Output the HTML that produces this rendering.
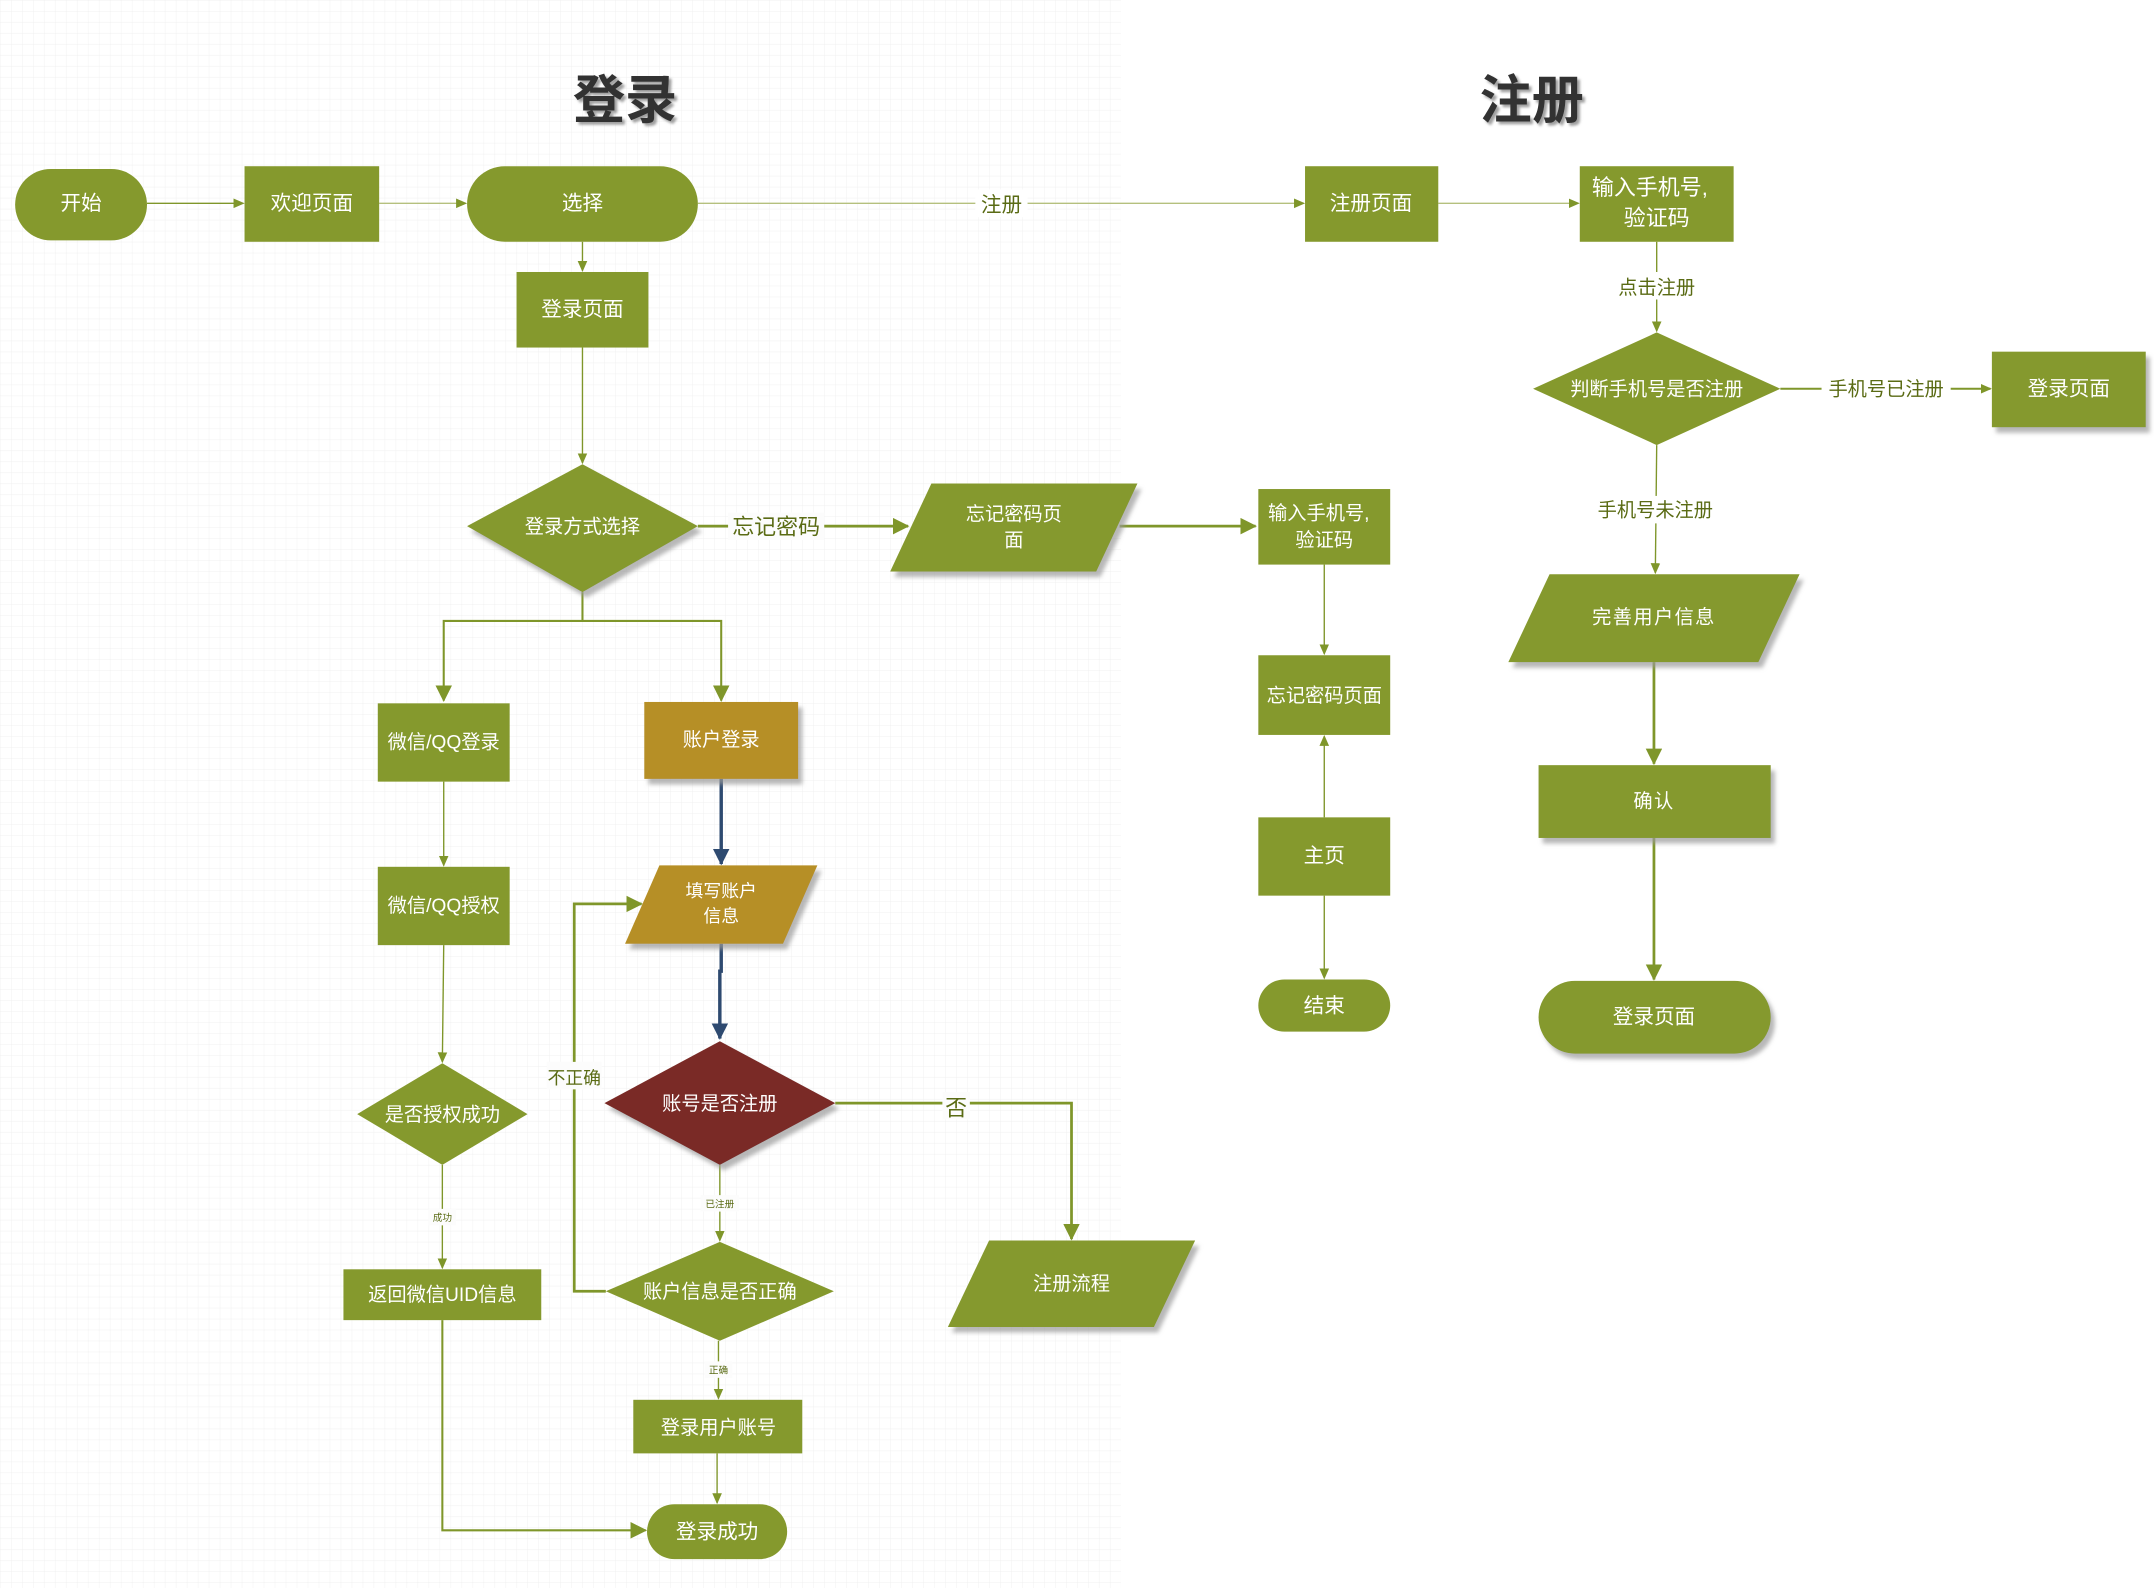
<!DOCTYPE html>
<html><head><meta charset="utf-8">
<style>
html,body{margin:0;padding:0;background:#fff;}
svg{display:block;}
text{font-family:"Liberation Sans","Noto Sans CJK SC",sans-serif;}
</style></head>
<body>
<svg width="2154" height="1588" viewBox="0 0 1568 1156" xmlns="http://www.w3.org/2000/svg">
<defs>
<pattern id="g" width="8" height="8" patternUnits="userSpaceOnUse">
<path d="M8 0H0V8" fill="none" stroke="#ececec" stroke-width="0.5"/>
</pattern>
<marker id="a" markerWidth="8" markerHeight="8" refX="7" refY="4" orient="auto" markerUnits="userSpaceOnUse"><path d="M0,0.5 L8,4 L0,7.5Z" fill="#7f962a"/></marker>
<marker id="ab" markerWidth="12" markerHeight="12" refX="11" refY="6" orient="auto" markerUnits="userSpaceOnUse"><path d="M0,0 L12,6 L0,12Z" fill="#7f962a"/></marker>
<marker id="ad" markerWidth="12" markerHeight="12" refX="11" refY="6" orient="auto" markerUnits="userSpaceOnUse"><path d="M0,0 L12,6 L0,12Z" fill="#2e4a70"/></marker>
<filter id="sh" x="-10%" y="-10%" width="130%" height="130%"><feDropShadow dx="3" dy="4" stdDeviation="1.5" flood-color="#999" flood-opacity="0.7"/></filter>
<filter id="ts"><feDropShadow dx="2" dy="2" stdDeviation="1" flood-color="#888" flood-opacity="0.8"/></filter>
</defs>
<rect x="0" y="0" width="816" height="1156" fill="url(#g)"/>

<text x="455" y="86" font-size="38" font-weight="bold" fill="#333" text-anchor="middle" filter="url(#ts)">登录</text>
<text x="1115" y="86" font-size="38" font-weight="bold" fill="#333" text-anchor="middle" filter="url(#ts)">注册</text>

<g stroke="#7f962a" fill="none" stroke-width="1">
<line x1="107" y1="148" x2="177" y2="148" marker-end="url(#a)"/>
<line x1="276" y1="148" x2="339" y2="148" marker-end="url(#a)" stroke="#b5c07e"/>
<line x1="508" y1="148" x2="949" y2="148" marker-end="url(#a)" stroke="#b5c07e"/>
<line x1="1047" y1="148" x2="1149" y2="148" marker-end="url(#a)" stroke="#b5c07e"/>
<line x1="1206" y1="176" x2="1206" y2="241" marker-end="url(#a)"/>
<line x1="1296" y1="283" x2="1449" y2="283" marker-end="url(#a)" stroke-width="1.5"/>
<line x1="1206" y1="324" x2="1205" y2="417" marker-end="url(#a)"/>
<line x1="1204" y1="482" x2="1204" y2="556" marker-end="url(#ab)" stroke-width="2"/>
<line x1="1204" y1="610" x2="1204" y2="713" marker-end="url(#ab)" stroke-width="2"/>
<line x1="424" y1="176" x2="424" y2="197" marker-end="url(#a)"/>
<line x1="424" y1="253" x2="424" y2="337" marker-end="url(#a)"/>
<line x1="508" y1="383" x2="661" y2="383" marker-end="url(#ab)" stroke-width="2"/>
<line x1="815" y1="383" x2="914" y2="383" marker-end="url(#ab)" stroke-width="2"/>
<line x1="964" y1="411" x2="964" y2="476" marker-end="url(#a)"/>
<line x1="964" y1="595" x2="964" y2="536" marker-end="url(#a)"/>
<line x1="964" y1="652" x2="964" y2="712" marker-end="url(#a)"/>
<path d="M424 431V452H323V510" marker-end="url(#ab)" stroke-width="1.5"/>
<path d="M424 452H525V510" marker-end="url(#ab)" stroke-width="1.5"/>
<line x1="323" y1="569" x2="323" y2="630" marker-end="url(#a)"/>
<line x1="323" y1="688" x2="322" y2="773" marker-end="url(#a)"/>
<line x1="322" y1="848" x2="322" y2="923" marker-end="url(#a)"/>
<path d="M322 961V1114H470" marker-end="url(#ab)" stroke-width="1.5"/>
<path d="M608 803H780V902" marker-end="url(#ab)" stroke-width="2"/>
<line x1="524" y1="848" x2="524" y2="903" marker-end="url(#a)"/>
<path d="M441 940H418V658H467" marker-end="url(#ab)" stroke-width="2"/>
<line x1="523" y1="976" x2="523" y2="1018" marker-end="url(#a)"/>
<line x1="522" y1="1058" x2="522" y2="1094" marker-end="url(#a)"/>
</g>
<g stroke="#2e4a70" stroke-width="2.5" fill="none">
<line x1="525" y1="567" x2="525" y2="629" marker-end="url(#ad)"/>
<path d="M525 687V707H524V756" marker-end="url(#ad)"/>
</g>

<!-- connector labels -->
<g font-size="15" fill="#5a6b14" text-anchor="middle">
<rect x="710" y="138" width="38" height="20" fill="#fff"/>
<text x="729" y="154">注册</text>
<rect x="1172" y="198" width="68" height="20" fill="#fff"/>
<text x="1206" y="214" font-size="14">点击注册</text>
<rect x="1326" y="273" width="94" height="20" fill="#fff"/>
<text x="1373" y="288" font-size="14">手机号已注册</text>
<rect x="1156" y="361" width="98" height="20" fill="#fff"/>
<text x="1205" y="376" font-size="14">手机号未注册</text>
<rect x="530" y="373" width="70" height="20" fill="#fcfcfc"/>
<text x="565" y="389" font-size="16">忘记密码</text>
<rect x="398" y="773" width="40" height="20" fill="#fcfcfc"/>
<text x="418" y="789" font-size="13">不正确</text>
<rect x="686" y="795" width="20" height="20" fill="#fcfcfc"/>
<text x="696" y="812" font-size="16">否</text>
<rect x="312" y="880" width="20" height="12" fill="#fcfcfc"/>
<text x="322" y="889" font-size="7">成功</text>
<rect x="510" y="870" width="28" height="12" fill="#fcfcfc"/>
<text x="524" y="879" font-size="7">已注册</text>
<rect x="513" y="991" width="20" height="12" fill="#fcfcfc"/>
<text x="523" y="1000" font-size="7">正确</text>
</g>

<!-- nodes -->
<g fill="#85992d">
<rect x="11" y="123" width="96" height="52" rx="26"/>
<rect x="178" y="121" width="98" height="55"/>
<rect x="340" y="121" width="168" height="55" rx="27.5"/>
<rect x="950" y="121" width="97" height="55"/>
<rect x="1150" y="121" width="112" height="55"/>
<polygon points="1206,242 1296,283 1206,324 1116,283"/>
<rect x="1450" y="256" width="112" height="55" filter="url(#sh)"/>
<polygon points="1128,418 1310,418 1280,482 1098,482" filter="url(#sh)"/>
<rect x="1120" y="557" width="169" height="53" filter="url(#sh)"/>
<rect x="1120" y="714" width="169" height="53" rx="26.5" filter="url(#sh)"/>
<rect x="376" y="198" width="96" height="55"/>
<polygon points="424,338 508,383 424,431 340,383" filter="url(#sh)"/>
<polygon points="678,352 828,352 798,416 648,416" filter="url(#sh)"/>
<rect x="916" y="356" width="96" height="55"/>
<rect x="916" y="477" width="96" height="58"/>
<rect x="916" y="595" width="96" height="57"/>
<rect x="916" y="713" width="96" height="38" rx="19"/>
<rect x="275" y="512" width="96" height="57"/>
<rect x="275" y="631" width="96" height="57"/>
<polygon points="322,774 384,811 322,848 260,811"/>
<rect x="250" y="924" width="144" height="37"/>
<rect x="471" y="1095" width="102" height="40" rx="20"/>
<polygon points="524,904 607,940 524,976 441,940"/>
<rect x="461" y="1019" width="123" height="39"/>
<polygon points="720,903 870,903 840,966 690,966" filter="url(#sh)"/>
</g>
<rect x="469" y="511" width="112" height="56" fill="#b68f25" filter="url(#sh)"/>
<polygon points="480,630 595,630 570,687 455,687" fill="#b68f25" filter="url(#sh)"/>
<polygon points="524,758 608,803 524,848 440,803" fill="#7a2a25" filter="url(#sh)"/>

<!-- node text -->
<g fill="#fff" font-size="15" text-anchor="middle">
<text x="59" y="153">开始</text>
<text x="227" y="153">欢迎页面</text>
<text x="424" y="153">选择</text>
<text x="998" y="153">注册页面</text>
<text x="1201" y="142" font-size="16">输入手机号,</text>
<text x="1206" y="164" font-size="16">验证码</text>
<text x="1206" y="288" font-size="14">判断手机号是否注册</text>
<text x="1506" y="288">登录页面</text>
<text x="1204" y="454" font-size="14" letter-spacing="1">完善用户信息</text>
<text x="1204" y="588" font-size="14" letter-spacing="1">确认</text>
<text x="1204" y="745">登录页面</text>
<text x="424" y="230">登录页面</text>
<text x="424" y="388" font-size="14">登录方式选择</text>
<text x="738" y="379" font-size="14">忘记密码页</text>
<text x="738" y="398" font-size="14">面</text>
<text x="960" y="378" font-size="14">输入手机号,</text>
<text x="964" y="398" font-size="14">验证码</text>
<text x="964" y="511" font-size="14">忘记密码页面</text>
<text x="964" y="628">主页</text>
<text x="964" y="737">结束</text>
<text x="323" y="545" font-size="14">微信/QQ登录</text>
<text x="323" y="664" font-size="14">微信/QQ授权</text>
<text x="322" y="816" font-size="14">是否授权成功</text>
<text x="322" y="947" font-size="14">返回微信UID信息</text>
<text x="525" y="543" font-size="14">账户登录</text>
<text x="525" y="653" font-size="13">填写账户</text>
<text x="525" y="671" font-size="13">信息</text>
<text x="524" y="808" font-size="14">账号是否注册</text>
<text x="524" y="945" font-size="14">账户信息是否正确</text>
<text x="523" y="1044" font-size="14">登录用户账号</text>
<text x="522" y="1120">登录成功</text>
<text x="780" y="939" font-size="14">注册流程</text>
</g>
</svg>
</body></html>
